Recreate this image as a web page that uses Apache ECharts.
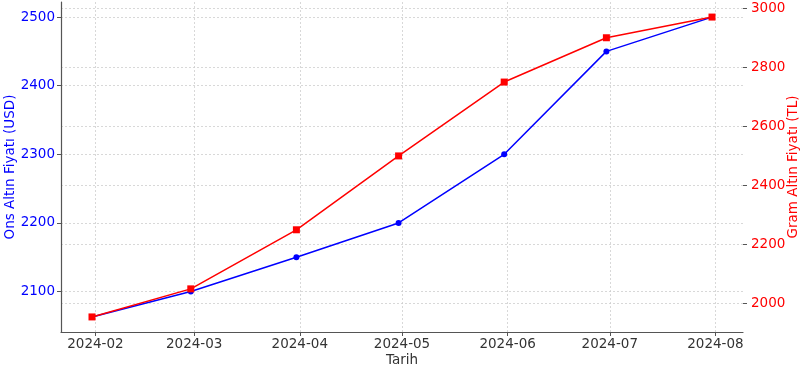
<!DOCTYPE html>
<html><head><meta charset="utf-8">
<script src="https://cdn.jsdelivr.net/npm/echarts@6/dist/echarts.min.js"></script>
<style>html,body{margin:0;padding:0;background:#fff}#c{width:800px;height:366px}</style>
</head><body><div id="c"></div>
<script>
const dates = ['2024-01-31','2024-02-29','2024-03-31','2024-04-30','2024-05-31','2024-06-30','2024-07-31'];
const onsUSD = [2063, 2100, 2150, 2200, 2300, 2450, 2500];
const gramTL = [1955, 2050, 2250, 2500, 2750, 2900, 2970];
const xTicks = ['2024-02','2024-03','2024-04','2024-05','2024-06','2024-07','2024-08'];
const leftTicks = [2100, 2200, 2300, 2400, 2500];
const rightTicks = [2000, 2200, 2400, 2600, 2800, 3000];

function toTs(s){const p=s.split('-').map(Number);return new Date(p[0],p[1]-1,p[2]||1).getTime();}
const DAY = 86400000;
const xMin = toTs(dates[0]) - 9.1*DAY, xMax = toTs(dates[dates.length-1]) + 9.1*DAY;
const font = 'DejaVu Sans';
const grid = {type:[2,2], color:'#cfcfcf', width:0.8};

const chart = echarts.init(document.getElementById('c'), null, {renderer:'canvas'});
chart.setOption({
  animation:false,
  grid:{left:61, right:57, top:2, bottom:34, containLabel:false, outerBoundsMode:'none'},
  xAxis:{
    type:'value', min:xMin, max:xMax, scale:true,
    name:'Tarih', nameLocation:'middle', nameGap:21, nameMoveOverlap:false,
    nameTextStyle:{fontFamily:font, fontSize:13.5, color:'#333', verticalAlign:'top'},
    axisLine:{show:true, onZero:false, lineStyle:{color:'#555', width:1.2}},
    axisTick:{show:true, length:4, lineStyle:{color:'#555'}, customValues: xTicks.map(toTs)},
    axisLabel:{fontFamily:font, fontSize:13.5, color:'#333', margin:5,
      customValues: xTicks.map(toTs),
      formatter: v => { const d=new Date(v); return d.getFullYear()+'-'+String(d.getMonth()+1).padStart(2,'0'); }},
    splitLine:{show:true, lineStyle:grid}
  },
  yAxis:[{
    type:'value', min:2041, max:2522, position:'left', scale:true,
    name:'Ons Altın Fiyatı (USD)', nameLocation:'middle', nameGap:44, nameRotate:90, nameMoveOverlap:false,
    nameTextStyle:{fontFamily:font, fontSize:13.5, color:'#0000ff'},
    axisLine:{show:true, onZero:false, lineStyle:{color:'#555', width:1.2}},
    axisTick:{show:true, length:4, lineStyle:{color:'#555'}, customValues:leftTicks},
    axisLabel:{fontFamily:font, fontSize:13.5, color:'#0000ff', margin:6, customValues:leftTicks, formatter:v=>String(v)},
    splitLine:{show:true, lineStyle:grid}
  },{
    type:'value', min:1904, max:3021, position:'right', scale:true,
    name:'Gram Altın Fiyatı (TL)', nameLocation:'middle', nameGap:43, nameRotate:90, nameMoveOverlap:false,
    nameTextStyle:{fontFamily:font, fontSize:13.5, color:'#ff0000'},
    axisLine:{show:false},
    axisTick:{show:true, length:4, lineStyle:{color:'#555'}, customValues:rightTicks},
    axisLabel:{fontFamily:font, fontSize:13.5, color:'#ff0000', margin:8, customValues:rightTicks, formatter:v=>String(v)},
    splitLine:{show:true, lineStyle:grid}
  }],
  series:[{
    type:'line', yAxisIndex:0, data: dates.map((d,i)=>[toTs(d), onsUSD[i]]),
    symbol:'circle', symbolSize:6, lineStyle:{color:'#0000ff', width:1.5},
    itemStyle:{color:'#0000ff'}, z:2
  },{
    type:'line', yAxisIndex:1, data: dates.map((d,i)=>[toTs(d), gramTL[i]]),
    symbol:'rect', symbolSize:7, lineStyle:{color:'#ff0000', width:1.5},
    itemStyle:{color:'#ff0000'}, z:3
  }]
});
</script></body></html>
